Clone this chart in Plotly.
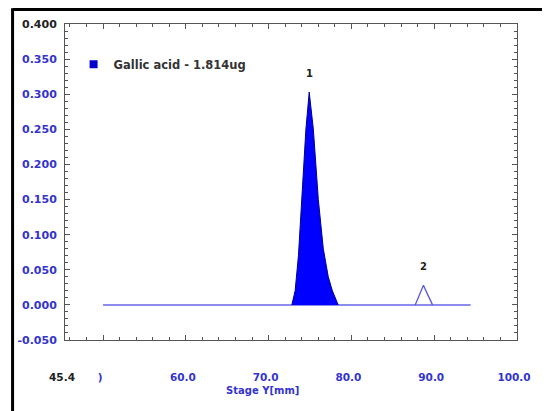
import plotly.graph_objects as go

# ---- data ----
baseline_x = [50.0, 94.4]
baseline_y = [0.0, 0.0]

peak1_x = [72.8, 73.2, 73.6, 74.0, 74.5, 74.9, 75.4, 76.0, 76.6, 77.2, 77.7, 78.4]
peak1_y = [0.0, 0.02, 0.07, 0.15, 0.25, 0.303, 0.25, 0.15, 0.08, 0.04, 0.02, 0.0]

peak2_x = [87.7, 88.2, 88.7, 89.2, 89.8]
peak2_y = [0.0, 0.015, 0.028, 0.015, 0.0]

peak_labels = ["1", "2"]
peak_label_x = [74.9, 88.7]
peak_label_y = [0.330, 0.054]

legend_name = "Gallic acid - 1.814ug"
title_text = "Standard"
x_title = "Stage Y[mm]"

x_tickvals = [45.4, 50, 60, 70, 80, 90, 100]
x_ticktext = ["45.4", ")", "60.0", "70.0", "80.0", "90.0", "100.0"]
y_tickvals = [-0.05, 0.0, 0.05, 0.1, 0.15, 0.2, 0.25, 0.3, 0.35, 0.4]
y_ticktext = ["-0.050", "0.000", "0.050", "0.100", "0.150", "0.200", "0.250",
              "0.300", "0.350", "0.400"]

BLUE_TXT = "#3434cc"
FONT = "DejaVu Sans"


def style_tick(t, black):
    if t in black:
        return f"<b><span style='color:#222222'>{t}</span></b>"
    return f"<b>{t}</b>"


x_tt = [style_tick(t, {"45.4"}) for t in x_ticktext]
y_tt = [style_tick(t, {"0.400"}) for t in y_ticktext]

fig = go.Figure()
fig.add_trace(go.Scatter(x=baseline_x, y=baseline_y, mode="lines",
                         line=dict(color="#8c8cf0", width=2), showlegend=False,
                         hoverinfo="skip"))
fig.add_trace(go.Scatter(x=peak1_x, y=peak1_y, mode="lines", fill="toself",
                         fillcolor="#0000ff", line=dict(color="#00008a", width=1),
                         showlegend=False))
fig.add_trace(go.Scatter(x=peak2_x, y=peak2_y, mode="lines",
                         line=dict(color="#5858e0", width=1.3), showlegend=False))
fig.add_trace(go.Scatter(x=[None], y=[None], mode="markers", name=f"<b>{legend_name}</b>",
                         marker=dict(symbol="square", size=8, color="#0000cc")))

for t, xv, yv in zip(peak_labels, peak_label_x, peak_label_y):
    fig.add_annotation(x=xv, y=yv, xref="x", yref="y", text=f"<b>{t}</b>", showarrow=False,
                       font=dict(family=FONT, size=10, color="#222222"))

fig.add_annotation(x=69.3, y=-0.16, xref="x", yref="paper", yanchor="middle",
                   text=f"<b>{x_title}</b>",
                   showarrow=False, font=dict(family=FONT, size=10, color=BLUE_TXT))
# title sits mostly above the top edge of the picture; only its foot shows
fig.add_annotation(x=0.458, y=1.035, xref="paper", yref="paper", yanchor="bottom",
                   text=f"<b>{title_text}</b>", showarrow=False,
                   font=dict(family=FONT, size=16, color="#111111"))

axis_common = dict(showline=True, linecolor="#555555", linewidth=1, mirror="ticks",
                   ticks="inside", ticklen=5, tickcolor="#555555", showgrid=False,
                   zeroline=False, automargin=False)

fig.update_xaxes(range=[45.4, 100.0], tickmode="array", tickvals=x_tickvals,
                 ticktext=x_tt, ticklabelstandoff=27, ticklabelshift=-3,
                 tickfont=dict(family=FONT, size=10.5, color=BLUE_TXT),
                 minor=dict(ticks="inside", ticklen=3, tickcolor="#555555",
                            tickmode="linear", tick0=0, dtick=2),
                 **axis_common)
fig.update_yaxes(range=[-0.05, 0.4], tickmode="array", tickvals=y_tickvals,
                 ticktext=y_tt, ticklabelstandoff=5,
                 tickfont=dict(family=FONT, size=11, color=BLUE_TXT),
                 minor=dict(ticks="inside", ticklen=3, tickcolor="#555555",
                            tickmode="linear", tick0=0, dtick=0.01),
                 **axis_common)

# the page body keeps an 8px margin, so the figure is drawn 8px smaller
fig.update_layout(
    width=542, height=403,
    margin=dict(l=57, r=33, t=16, b=71, autoexpand=False),
    paper_bgcolor="white", plot_bgcolor="white",
    showlegend=True,
    legend=dict(x=0.019, y=0.873, xanchor="left", yanchor="middle",
                bgcolor="rgba(0,0,0,0)", itemwidth=30,
                font=dict(family=FONT, size=11.5, color="#333333")),
    shapes=[
        dict(type="line", xref="paper", yref="paper", x0=-0.116, x1=1.1, y0=1.046, y1=1.046,
             line=dict(color="black", width=3)),
        dict(type="line", xref="paper", yref="paper", x0=-0.116, x1=-0.116, y0=1.05, y1=-0.3,
             line=dict(color="black", width=3)),
    ],
)

fig.write_html("out.html", config={"displayModeBar": False})
